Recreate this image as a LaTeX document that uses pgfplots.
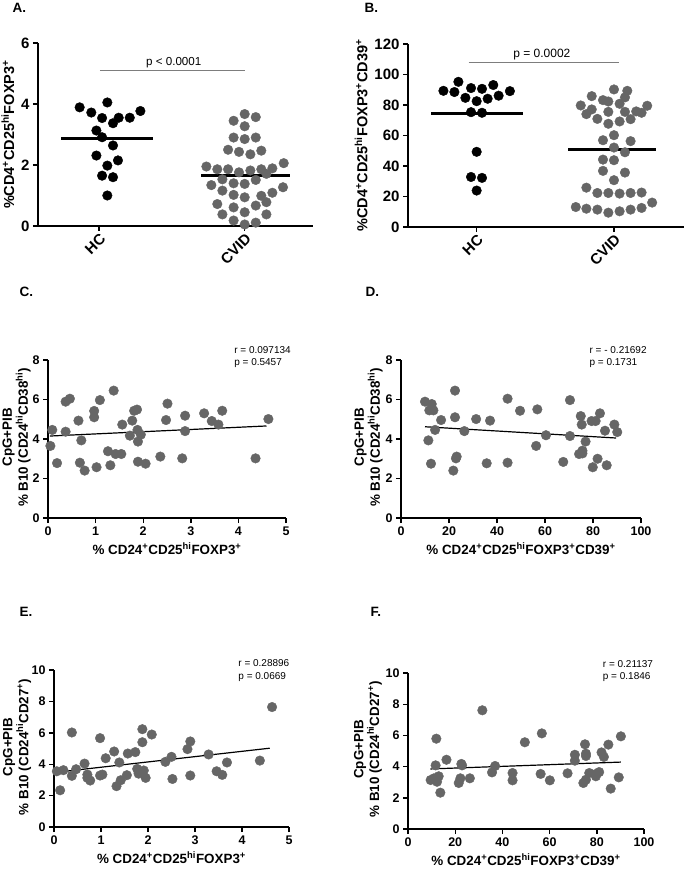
\documentclass[border=0pt]{standalone}
\usepackage{fontspec}
\setmainfont{Liberation Sans}
\usepackage{pgfplots}
\pgfplotsset{compat=1.18}
\definecolor{dotgray}{RGB}{102,102,102}
\definecolor{pgray}{RGB}{125,125,125}

\tikzset{ann/.style={font=\fontsize{10}{11}\selectfont, anchor=west, inner sep=0pt}}
\pgfplotsset{
  gp/.style={
    scale only axis,
    axis lines*=left,
    axis line style={line width=1.4pt,-},
    tick style={line width=1.4pt,black},
    major tick length=5pt,
    tick align=outside,
    clip=false,
    /pgf/number format/assume math mode=true,
    tick label style={font=\bfseries\fontsize{12.5}{14}\selectfont},
    label style={font=\bfseries\fontsize{13.4}{13.5}\selectfont},
  },
  big/.style={
    tick label style={font=\bfseries\fontsize{15}{17}\selectfont},
    label style={font=\bfseries\fontsize{14.5}{16}\selectfont},
  },
  ylab/.style={ylabel style={align=center, at={(axis description cs:#1,0.51)}, anchor=center}},
  catx/.style={
    xtick={1,2}, xticklabels={HC,CVID},
    xticklabel style={rotate=45, anchor=north east, inner sep=1pt},
  },
  blk/.style={only marks, mark=*, mark size=4.8pt, black},
  gry/.style={only marks, mark=*, mark size=4.8pt, dotgray, mark options={fill=dotgray, draw=dotgray}},
}

\begin{document}
\begin{tikzpicture}
\path[use as bounding box] (0,0) rectangle (685pt,-869pt);

% panel letters
\node[anchor=west, font=\bfseries\fontsize{13.5}{15}\selectfont] at (9pt,-8pt) {A.};
\node[anchor=west, font=\bfseries\fontsize{13.5}{15}\selectfont] at (361pt,-8pt) {B.};
\node[anchor=west, font=\bfseries\fontsize{13.5}{15}\selectfont] at (16pt,-292pt) {C.};
\node[anchor=west, font=\bfseries\fontsize{13.5}{15}\selectfont] at (362pt,-292pt) {D.};
\node[anchor=west, font=\bfseries\fontsize{13.5}{15}\selectfont] at (16pt,-612pt) {E.};
\node[anchor=west, font=\bfseries\fontsize{13.5}{15}\selectfont] at (367pt,-612pt) {F.};

% ---- A ----
\begin{axis}[gp, big, catx, at={(38pt,-43pt)}, anchor=north west,
  width=275pt, height=183pt,
  xmin=0.581, xmax=2.469, ymin=0, ymax=6, ytick={0,2,4,6},
  ylabel={\%CD4\textsuperscript{+}CD25\textsuperscript{hi}FOXP3\textsuperscript{+}}]
\addplot[blk] coordinates {
(0.867,3.89)(0.947,3.72)(1.057,4.05)(1.021,3.54)(1.135,3.55)(1.096,3.37)(1.211,3.55)(1.284,3.77)(0.982,3.13)(1.021,2.91)(1.096,2.64)(0.982,2.31)(1.057,1.98)(1.130,2.15)(1.021,1.65)(1.096,1.60)(1.057,1.00)
};
\addplot[gry] coordinates {
(2.000,3.67)(2.076,3.57)(1.924,3.45)(2.000,3.27)(1.924,2.90)(2.000,2.85)(2.076,2.90)(1.886,2.50)(1.961,2.43)(2.039,2.35)(2.114,2.47)(1.737,1.95)(1.812,1.86)(1.886,1.86)(1.961,1.76)(2.039,1.82)(2.114,1.86)(2.190,1.89)(2.268,2.06)(2.149,1.71)(1.771,1.34)(1.847,1.53)(1.924,1.40)(2.000,1.38)(2.076,1.51)(2.263,1.27)(2.190,1.09)(1.847,1.16)(1.924,1.02)(2.000,0.94)(2.114,0.99)(1.812,0.72)(1.924,0.61)(2.076,0.67)(2.149,0.78)(1.847,0.38)(2.000,0.45)(2.149,0.38)(1.924,0.18)(2.000,0.05)(2.076,0.11)
};
\addplot[black, line width=3pt] coordinates {(0.741,2.87)(1.371,2.87)};
\addplot[black, line width=3pt] coordinates {(1.703,1.65)(2.309,1.65)};
\addplot[pgray, line width=1.8pt] coordinates {(1.005,5.10)(2.0,5.10)};
\node[font=\fontsize{11.6}{13}\selectfont, anchor=south, inner sep=2pt] at (axis cs:1.513,5.10) {p < 0.0001};
\end{axis}

% ---- B ----
\begin{axis}[gp, big, catx, at={(408pt,-44pt)}, anchor=north west,
  width=276pt, height=183pt,
  xmin=0.5, xmax=2.51, ymin=0, ymax=120, ytick={0,20,...,120},
  ylabel={\%CD4\textsuperscript{+}CD25\textsuperscript{hi}FOXP3\textsuperscript{+}CD39\textsuperscript{+}}]
\addplot[blk] coordinates {
(0.867,95.2)(0.758,89.3)(0.838,88.5)(0.959,91.1)(1.039,90.6)(1.121,93.1)(1.242,89.1)(0.918,84.7)(1.000,82.5)(1.080,84.1)(1.160,86.1)(0.959,75.3)(1.039,74.9)(1.000,49.3)(0.959,32.8)(1.039,32.2)(1.000,23.9)
};
\addplot[gry] coordinates {
(2.000,90.2)(2.097,89.3)(1.838,85.8)(1.920,83.2)(1.959,82.3)(2.080,85.0)(2.041,80.8)(1.758,79.7)(1.838,77.1)(1.799,74.0)(1.959,75.5)(2.080,75.5)(2.162,75.8)(2.201,74.9)(2.242,79.5)(1.879,70.9)(1.959,67.7)(2.041,69.2)(2.121,70.7)(2.000,60.2)(1.920,56.9)(2.121,56.3)(2.000,52.1)(2.080,49.0)(1.920,44.2)(2.000,43.8)(1.920,36.8)(2.080,35.7)(2.000,30.7)(1.799,25.8)(1.879,22.3)(1.959,22.3)(2.041,21.9)(2.121,22.3)(2.201,22.6)(1.722,13.1)(1.799,12.0)(1.879,11.4)(1.959,9.4)(2.041,10.3)(2.121,11.4)(2.201,12.5)(2.278,16.0)
};
\addplot[black, line width=3pt] coordinates {(0.668,74.2)(1.334,74.2)};
\addplot[black, line width=3pt] coordinates {(1.668,50.8)(2.308,50.8)};
\addplot[pgray, line width=1pt] coordinates {(0.942,107.9)(2.039,107.9)};
\node[font=\fontsize{12}{13}\selectfont, anchor=south, inner sep=2pt] at (axis cs:1.475,107.9) {p = 0.0002};
\end{axis}

% ---- C ----
\begin{axis}[gp, ylab=-0.132, at={(48pt,-360pt)}, anchor=north west,
  width=238pt, height=158pt,
  xmin=0, xmax=5, ymin=0, ymax=8, xtick={0,...,5}, ytick={0,2,...,8},
  ylabel={CpG+PIB\\\% B10 (CD24\textsuperscript{hi}CD38\textsuperscript{hi})},
  xlabel={\% CD24\textsuperscript{+}CD25\textsuperscript{hi}FOXP3\textsuperscript{+}}]
\addplot[gry] coordinates {
(0.05,3.65)(0.09,4.46)(0.19,2.78)(0.37,4.37)(0.37,5.89)(0.46,6.04)(0.64,4.93)(0.67,2.80)(0.70,3.93)(0.77,2.40)(0.97,5.42)(0.97,5.10)(1.02,2.57)(1.09,5.97)(1.26,3.38)(1.31,2.67)(1.38,6.45)(1.42,3.24)(1.54,3.24)(1.56,4.73)(1.72,4.17)(1.77,4.93)(1.81,5.43)(1.87,5.49)(1.88,4.46)(1.89,3.87)(1.89,2.85)(1.95,4.22)(2.05,2.75)(2.36,3.11)(2.48,4.96)(2.51,5.79)(2.82,3.02)(2.88,5.18)(2.88,4.40)(3.28,5.30)(3.44,4.91)(3.58,4.73)(3.66,5.43)(4.36,3.02)(4.63,5.01)
};
\addplot[black, line width=1.2pt] coordinates {(0.04,4.15)(4.59,4.66)};
\node[ann] at (axis cs:3.91,8.51) {r = 0.097134};
\node[ann] at (axis cs:3.91,7.86) {p = 0.5457};
\end{axis}

% ---- D ----
\begin{axis}[gp, ylab=-0.135, at={(401pt,-360pt)}, anchor=north west,
  width=240pt, height=158pt,
  xmin=0, xmax=100, ymin=0, ymax=8, xtick={0,20,...,100}, ytick={0,2,...,8},
  ylabel={CpG+PIB\\\% B10 (CD24\textsuperscript{hi}CD38\textsuperscript{hi})},
  xlabel={\% CD24\textsuperscript{+}CD25\textsuperscript{hi}FOXP3\textsuperscript{+}CD39\textsuperscript{+}}]
\addplot[gry] coordinates {
(10.0,5.89)(11.4,3.93)(11.8,5.45)(12.8,5.77)(13.5,5.45)(12.5,2.75)(14.2,4.46)(16.7,4.96)(22.5,6.45)(22.5,5.10)(21.8,2.40)(22.9,3.02)(23.2,3.11)(26.4,4.40)(31.3,5.01)(37.1,4.93)(35.7,2.77)(44.4,2.80)(44.4,6.04)(49.6,5.43)(56.8,5.50)(56.3,3.65)(60.4,4.19)(67.6,2.84)(70.4,5.97)(70.4,4.15)(74.2,3.24)(74.9,5.16)(75.3,4.73)(75.6,3.27)(75.6,3.41)(76.9,3.87)(79.4,4.91)(79.9,2.57)(81.1,4.91)(81.9,3.00)(82.9,5.30)(85.0,4.42)(85.7,2.67)(88.9,4.73)(90.1,4.35)
};
\addplot[black, line width=1.2pt] coordinates {(10,4.62)(89.6,4.05)};
\node[ann] at (axis cs:78.5,8.51) {r = - 0.21692};
\node[ann] at (axis cs:78.5,7.84) {p = 0.1731};
\end{axis}

% ---- E ----
\begin{axis}[gp, ylab=-0.157, at={(54pt,-670pt)}, anchor=north west,
  width=235pt, height=157pt,
  xmin=0, xmax=5, ymin=0, ymax=10, xtick={0,...,5}, ytick={0,2,...,10},
  ylabel={CpG+PIB\\\% B10 (CD24\textsuperscript{hi}CD27\textsuperscript{+})},
  xlabel={\% CD24\textsuperscript{+}CD25\textsuperscript{hi}FOXP3\textsuperscript{+}}]
\addplot[gry] coordinates {
(0.06,3.55)(0.13,2.34)(0.20,3.62)(0.38,6.02)(0.38,3.26)(0.47,3.68)(0.65,4.04)(0.71,3.34)(0.71,3.13)(0.77,2.96)(0.98,5.66)(0.98,3.28)(1.03,3.34)(1.10,4.38)(1.28,4.81)(1.33,2.60)(1.39,4.11)(1.42,2.98)(1.55,3.30)(1.57,4.68)(1.73,4.77)(1.77,3.70)(1.80,3.40)(1.88,6.23)(1.88,5.40)(1.91,3.60)(1.95,3.13)(2.08,5.89)(2.37,4.15)(2.50,4.47)(2.52,3.06)(2.84,4.96)(2.90,5.45)(2.90,3.28)(3.29,4.62)(3.46,3.55)(3.58,3.32)(3.68,4.11)(4.38,4.23)(4.64,7.64)
};
\addplot[black, line width=1.2pt] coordinates {(0.06,3.49)(4.59,5.02)};
\node[ann] at (axis cs:3.92,10.43) {r = 0.28896};
\node[ann] at (axis cs:3.92,9.57) {p = 0.0669};
\end{axis}

% ---- F ----
\begin{axis}[gp, ylab=-0.170, at={(408pt,-673pt)}, anchor=north west,
  width=236pt, height=156pt,
  xmin=0, xmax=100, ymin=0, ymax=10, xtick={0,20,...,100}, ytick={0,2,...,10},
  ylabel={CpG+PIB\\\% B10 (CD24\textsuperscript{hi}CD27\textsuperscript{+})},
  xlabel={\% CD24\textsuperscript{+}CD25\textsuperscript{hi}FOXP3\textsuperscript{+}CD39\textsuperscript{+}}]
\addplot[gry] coordinates {
(9.6,3.14)(11.0,3.25)(11.7,4.08)(12.0,5.79)(12.3,3.03)(13.0,3.38)(13.7,2.33)(16.3,4.44)(21.5,2.95)(22.2,3.25)(22.6,4.17)(22.9,4.08)(26.2,3.25)(31.5,7.61)(35.6,3.63)(36.9,4.04)(44.3,3.59)(44.3,3.12)(49.5,5.56)(56.2,3.53)(56.7,6.13)(60.1,3.12)(67.6,3.57)(70.7,4.76)(70.7,4.38)(74.3,2.95)(75.0,5.43)(75.4,4.83)(75.4,4.68)(75.4,3.16)(76.8,3.59)(79.6,3.53)(79.6,3.38)(81.0,3.65)(82.0,4.91)(83.0,4.62)(84.9,5.41)(85.9,2.59)(89.3,3.31)(90.2,5.94)
};
\addplot[black, line width=1.2pt] coordinates {(9.5,3.85)(90.2,4.29)};
\node[ann] at (axis cs:82.5,10.58) {r = 0.21137};
\node[ann] at (axis cs:82.5,9.74) {p = 0.1846};
\end{axis}
\end{tikzpicture}
\end{document}
